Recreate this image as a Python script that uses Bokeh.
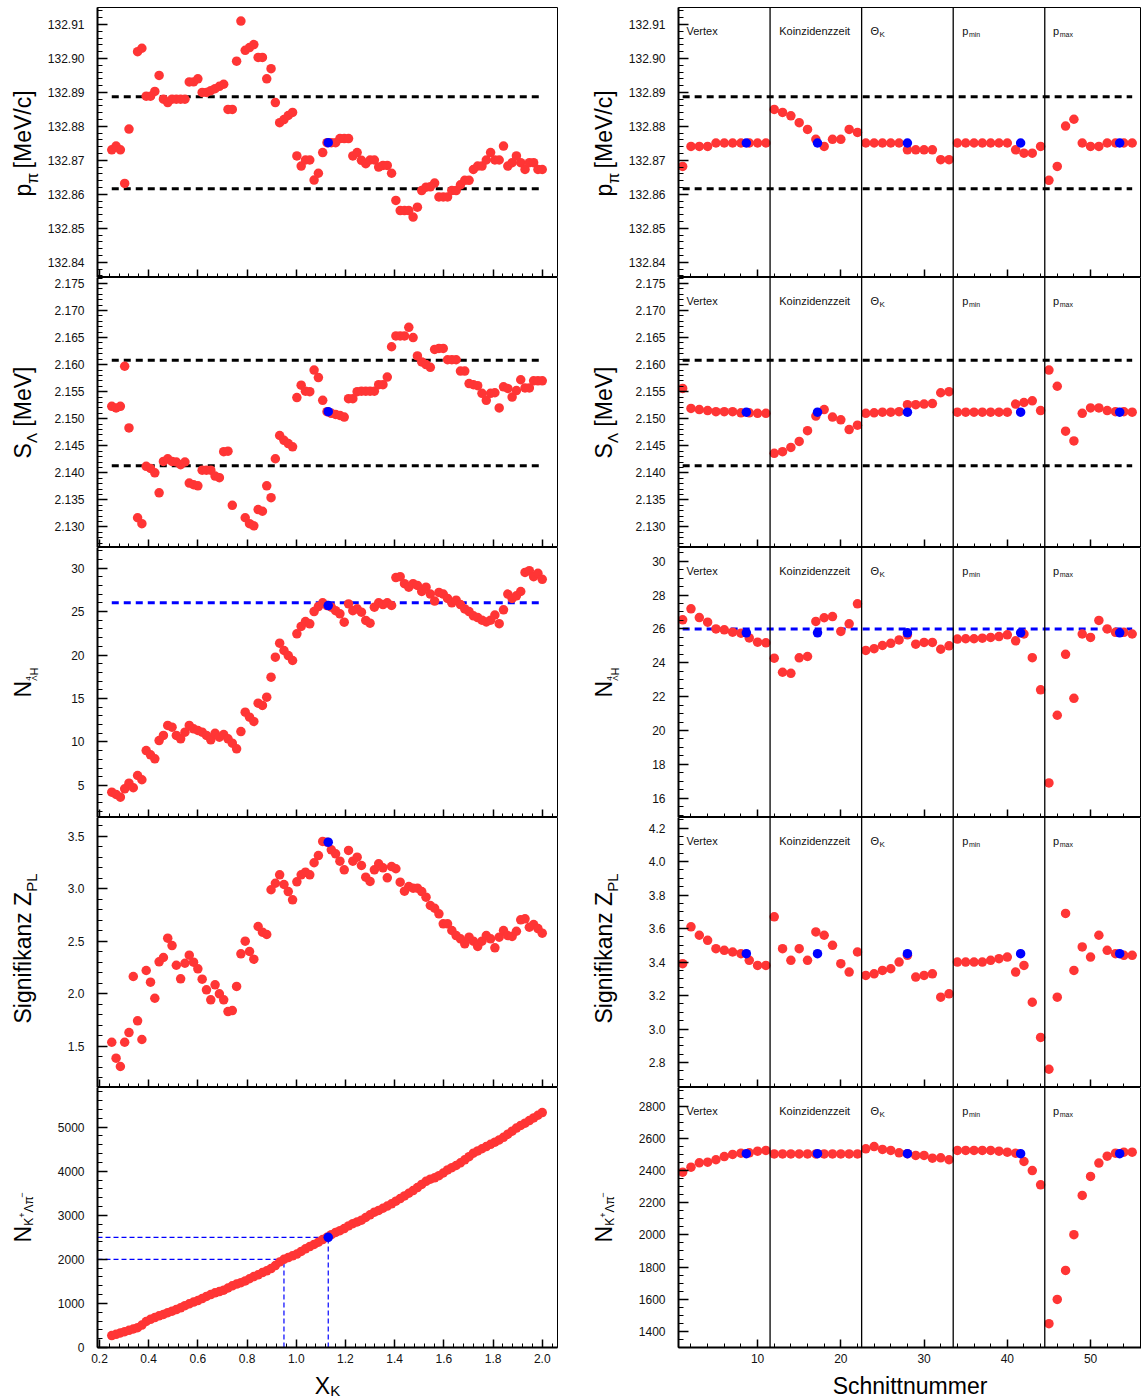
import numpy as np
from bokeh.plotting import figure
from bokeh.layouts import column, row
from bokeh.models import FixedTicker, PrintfTickFormatter, Span, Label, Range1d
from bokeh.core.properties import value
from bokeh.embed import file_html
from bokeh.resources import INLINE

nan = float("nan")

# ------------------------------------------------------------------ data
# left column: scan of the kaon cut X_K (101 cut values)
x_kappa = np.round(0.25 + 0.0175 * np.arange(101), 4)

p_pi_scan = [
    132.8731, 132.8742, 132.8731, 132.8632, 132.8792, nan, 132.9020, 132.9030, 132.8889, 132.8889,
    132.8903, 132.8950, 132.8880, 132.8870, 132.8880, 132.8880, 132.8880, 132.8880, 132.8931, 132.8931,
    132.8940, 132.8900, 132.8900, 132.8905, 132.8911, 132.8918, 132.8924, 132.8850, 132.8850, 132.8992,
    132.9110, 132.9024, 132.9032, 132.9041, 132.9003, 132.9003, 132.8940, 132.8970, 132.8870, 132.8811,
    132.8820, 132.8832, 132.8841, 132.8713, 132.8683, 132.8701, 132.8701, 132.8642, 132.8662, 132.8723,
    132.8752, 132.8752, 132.8752, 132.8764, 132.8764, 132.8764, 132.8713, 132.8723, 132.8700, 132.8690,
    132.8701, 132.8701, 132.8680, 132.8685, 132.8685, 132.8662, 132.8582, 132.8552, 132.8552, 132.8552,
    132.8533, 132.8562, 132.8611, 132.8621, 132.8622, 132.8633, 132.8592, 132.8592, 132.8592, 132.8611,
    132.8611, 132.8628, 132.8641, 132.8641, 132.8673, 132.8683, 132.8683, 132.8701, 132.8723, 132.8701,
    132.8701, 132.8742, 132.8683, 132.8693, 132.8713, 132.8693, 132.8673, 132.8693, 132.8693, 132.8673, 132.8673]

s_lambda_scan = [
    2.1523, 2.1520, 2.1523, 2.1597, 2.1483, nan, 2.1317, 2.1306, 2.1412, 2.1408,
    2.1400, 2.1363, 2.1421, 2.1426, 2.1421, 2.1420, 2.1415, 2.1420, 2.1381, 2.1378,
    2.1376, 2.1405, 2.1405, 2.1405, 2.1394, 2.1391, 2.1439, 2.1440, 2.1340, nan,
    nan, 2.1317, 2.1306, 2.1302, 2.1332, 2.1329, 2.1376, 2.1354, 2.1426, 2.1469,
    2.1460, 2.1454, 2.1448, 2.1539, 2.1562, 2.1551, 2.1550, 2.1590, 2.1576, 2.1534,
    2.1513, 2.1510, 2.1508, 2.1506, 2.1503, 2.1537, 2.1537, 2.1550, 2.1551, 2.1551,
    2.1551, 2.1551, 2.1563, 2.1563, 2.1577, 2.1633, 2.1653, 2.1653, 2.1653, 2.1669,
    2.1650, 2.1616, 2.1605, 2.1600, 2.1595, 2.1628, 2.1630, 2.1630, 2.1609, 2.1609,
    2.1609, 2.1588, 2.1588, 2.1565, 2.1563, 2.1561, 2.1547, 2.1534, 2.1547, 2.1548,
    2.1520, 2.1559, 2.1556, 2.1540, 2.1552, 2.1572, 2.1557, 2.1557, 2.1570, 2.1570, 2.1570]

n_hyp_scan = [
    4.23, 3.97, 3.66, 4.62, 5.27, 4.74, 6.15, 5.66, 9.02, 8.53,
    8.07, 10.17, 10.75, 11.90, 11.70, 10.75, 10.37, 11.13, 11.90, 11.52,
    11.32, 11.13, 10.75, 10.25, 11.00, 10.55, 10.86, 10.37, 9.86, 9.22,
    11.20, 13.43, 12.85, 12.36, 14.46, 14.20, 15.15, 17.45, 19.75, 21.36,
    20.52, 19.94, 19.37, 22.44, 23.28, 23.85, 23.59, 25.00, 25.57, 26.00,
    25.69, 25.50, 25.10, 24.74, 23.77, 25.88, 25.10, 25.31, 24.92, 23.97,
    23.66, 25.50, 26.00, 25.80, 26.00, 25.70, 28.90, 29.00, 28.20, 27.80,
    28.20, 28.00, 27.30, 27.80, 27.00, 26.20, 27.20, 27.00, 26.50, 26.00,
    26.30, 25.80, 25.30, 25.00, 24.50, 24.30, 24.00, 23.80, 24.00, 24.60,
    23.60, 25.20, 27.00, 26.50, 26.80, 27.30, 29.50, 29.70, 29.00, 29.40, 28.70]

signif_scan = [
    1.538, 1.386, 1.307, 1.538, 1.630, 2.164, 1.742, 1.564, 2.221, 2.110,
    1.957, 2.304, 2.345, 2.529, 2.459, 2.271, 2.142, 2.290, 2.367, 2.300,
    2.237, 2.138, 2.037, 1.942, 2.085, 1.999, 1.942, 1.830, 1.840, 2.069,
    2.380, 2.500, 2.402, 2.329, 2.640, 2.586, 2.564, 2.990, 3.052, 3.132,
    3.040, 2.973, 2.894, 3.066, 3.132, 3.157, 3.132, 3.247, 3.316, 3.450,
    3.443, 3.370, 3.332, 3.262, 3.180, 3.364, 3.262, 3.300, 3.221, 3.110,
    3.069, 3.180, 3.237, 3.199, 3.104, 3.211, 3.190, 3.062, 2.976, 3.021,
    3.005, 3.005, 2.973, 2.919, 2.840, 2.814, 2.761, 2.666, 2.666, 2.602,
    2.554, 2.523, 2.475, 2.538, 2.500, 2.450, 2.500, 2.554, 2.523, 2.437,
    2.538, 2.602, 2.554, 2.545, 2.595, 2.704, 2.713, 2.633, 2.659, 2.620, 2.576]

n_kpi_scan = [
    270, 300, 330, 360, 390, 420, 450, 510, 590, 640,
    680, 720, 750, 790, 825, 860, 900, 950, 990, 1030,
    1065, 1110, 1160, 1200, 1240, 1270, 1300, 1350, 1400, 1440,
    1470, 1510, 1560, 1610, 1650, 1700, 1740, 1790, 1860, 1940,
    2000, 2040, 2080, 2120, 2180, 2240, 2290, 2340, 2390, 2450,
    2500, 2560, 2610, 2650, 2700, 2760, 2810, 2850, 2890, 2950,
    3010, 3070, 3110, 3160, 3210, 3260, 3320, 3380, 3440, 3500,
    3560, 3630, 3700, 3770, 3820, 3850, 3900, 3960, 4030, 4080,
    4130, 4190, 4260, 4330, 4410, 4460, 4510, 4560, 4610, 4660,
    4710, 4770, 4840, 4910, 4980, 5040, 5090, 5150, 5210, 5270, 5330]

x_kappa_chosen = 1.13
x_kappa_2000 = 0.95
n_kpi_chosen = 2500
n_kpi_2000 = 2000
chosen_left = {"p": 132.8752, "s": 2.1513, "n": 25.69, "z": 3.443, "k": 2500}

# right column: variation of the other cuts (Schnittnummer 1..55)
cut_number = list(range(1, 56))

p_pi_cuts = [
    132.8682, 132.8741, 132.8741, 132.8741, 132.8751, 132.8751, 132.8751, 132.8751, 132.8751, 132.8751, 132.8751,
    132.8850, 132.8841, 132.8831, 132.8811, 132.8791, 132.8762, 132.8741, 132.8762, 132.8762, 132.8791, 132.8782,
    132.8751, 132.8751, 132.8751, 132.8751, 132.8751, 132.8731, 132.8731, 132.8731, 132.8731, 132.8702, 132.8702,
    132.8751, 132.8751, 132.8751, 132.8751, 132.8751, 132.8751, 132.8751, 132.8731, 132.8721, 132.8721, 132.8741,
    132.8641, 132.8682, 132.8801, 132.8821, 132.8751, 132.8741, 132.8741, 132.8751, 132.8751, 132.8751, 132.8751]

s_lambda_cuts = [
    2.1556, 2.1519, 2.1517, 2.1515, 2.1513, 2.1513, 2.1513, 2.1511, 2.1511, 2.1510, 2.1510,
    2.1436, 2.1439, 2.1447, 2.1458, 2.1478, 2.1505, 2.1517, 2.1503, 2.1498, 2.1480, 2.1488,
    2.1510, 2.1511, 2.1512, 2.1512, 2.1513, 2.1526, 2.1526, 2.1527, 2.1528, 2.1548, 2.1550,
    2.1512, 2.1512, 2.1512, 2.1512, 2.1512, 2.1512, 2.1512, 2.1527, 2.1530, 2.1533, 2.1515,
    2.1590, 2.1560, 2.1477, 2.1459, 2.1510, 2.1520, 2.1520, 2.1515, 2.1513, 2.1513, 2.1512]

n_hyp_cuts = [
    26.54, 27.19, 26.67, 26.40, 26.00, 25.95, 25.81, 25.75, 25.47, 25.22, 25.18,
    24.27, 23.44, 23.38, 24.29, 24.37, 26.44, 26.66, 26.73, 25.85, 26.30, 27.48,
    24.73, 24.83, 25.02, 25.15, 25.35, 25.65, 25.10, 25.20, 25.20, 24.80, 25.00,
    25.40, 25.42, 25.42, 25.45, 25.50, 25.55, 25.65, 25.30, 25.70, 24.30, 22.40,
    16.90, 20.90, 24.50, 21.90, 25.70, 25.50, 26.50, 26.00, 25.80, 25.80, 25.70]

signif_cuts = [
    3.39, 3.61, 3.56, 3.53, 3.48, 3.47, 3.46, 3.45, 3.41, 3.38, 3.38,
    3.67, 3.48, 3.41, 3.48, 3.41, 3.58, 3.56, 3.50, 3.39, 3.34, 3.46,
    3.32, 3.33, 3.35, 3.36, 3.40, 3.44, 3.31, 3.32, 3.33, 3.19, 3.21,
    3.40, 3.40, 3.40, 3.40, 3.41, 3.42, 3.43, 3.34, 3.38, 3.16, 2.95,
    2.76, 3.19, 3.69, 3.35, 3.49, 3.43, 3.56, 3.47, 3.45, 3.44, 3.44]

n_kpi_cuts = [
    2390, 2421, 2448, 2452, 2467, 2487, 2500, 2508, 2510, 2520, 2525,
    2503, 2503, 2503, 2503, 2503, 2503, 2503, 2503, 2503, 2503, 2503,
    2535, 2549, 2531, 2525, 2510, 2505, 2494, 2494, 2477, 2479, 2467,
    2525, 2525, 2525, 2525, 2525, 2520, 2514, 2508, 2456, 2400, 2311,
    1448, 1599, 1779, 2001, 2245, 2363, 2446, 2489, 2508, 2514, 2514]

chosen_cut_pos = [8.65, 17.2, 28.0, 41.6, 53.5]
chosen_right = {"p": 132.8751, "s": 2.1512, "n": 25.77, "z": 3.45, "k": 2505}

p_pi_band = [132.8616, 132.8887]
s_lambda_band = [2.1413, 2.1608]
n_hyp_ref = 26.0

section_bounds = [11.5, 22.5, 33.5, 44.5]
section_names = ["Vertex", "Koinzidenzzeit", "\u0398", "p", "p"]
section_subs = ["", "", "K", "min", "max"]
section_pos = [1.46, 12.6, 23.55, 34.6, 45.5]

# ------------------------------------------------------------------ style
FONT = "Liberation Sans"
RED = "#ff3535"
BLUE = "#0000ff"
TITLE = 23

W = {'p': 556, '\u03c0': 560, ' ': 278, '[': 278, ']': 278, 'M': 833, 'e': 556, 'V': 667, '/': 278,
     'c': 500, 'S': 667, '\u039b': 667, 'N': 722, '4': 556, 'H': 722, 'i': 222, 'g': 556, 'n': 556,
     'f': 278, 'k': 500, 'a': 556, 'z': 500, 'Z': 611, 'P': 667, 'L': 556, 'K': 667, '+': 584,
     '-': 584, '\u2212': 584, 'X': 667, 'h': 556, 't': 278, 'u': 556, 'm': 833, 'r': 333, '\u0398': 778}


def text_w(s, size):
    return sum(W.get(ch, 556) for ch in s) * size / 1000.0


def frame_fig(xr, yr, fw, fh, bl, br, bb, bt):
    p = figure(frame_width=fw, frame_height=fh, x_range=Range1d(*xr), y_range=Range1d(*yr),
               output_backend="svg", toolbar_location=None,
               min_border_left=bl, min_border_right=br, min_border_top=bt, min_border_bottom=bb)
    p.grid.visible = False
    p.outline_line_color = "black"
    p.outline_line_width = 1
    p.background_fill_color = "white"
    p.border_fill_color = "white"
    return p


def text_fig(w, h):
    t = figure(frame_width=w, frame_height=h, x_range=Range1d(0, w), y_range=Range1d(0, h),
               output_backend="svg", toolbar_location=None, min_border=0,
               x_axis_location=None, y_axis_location=None)
    t.grid.visible = False
    t.outline_line_color = None
    t.background_fill_color = "white"
    t.border_fill_color = "white"
    return t


def style(ax, ticks, minor, fmt, labels=True, standoff=13, tin=10, mtin=5):
    ax.ticker = FixedTicker(ticks=list(ticks), minor_ticks=list(minor))
    ax.formatter = PrintfTickFormatter(format=fmt)
    ax.axis_line_width = 2
    ax.axis_line_color = "black"
    ax.major_tick_in = tin
    ax.major_tick_out = 0
    ax.minor_tick_in = mtin
    ax.minor_tick_out = 0
    ax.major_tick_line_width = 1.5
    ax.minor_tick_line_width = 1
    ax.major_label_text_font = FONT
    if labels:
        ax.major_label_text_color = "#111111"
        ax.major_label_text_font_size = "12px"
        ax.major_label_standoff = standoff
    else:
        ax.major_label_text_color = None
        ax.major_label_text_font_size = "0px"
        ax.major_label_standoff = 0


def rng(lo, hi, step):
    return np.round(np.arange(lo, hi + step / 2, step), 6)


def run_len(runs):
    return sum(text_w(s_, s) for s_, s, d, adv in runs if adv)


def y_title(t, runs, center_y, base_x):
    y = center_y - run_len(runs) / 2.0
    for s_, s, d, adv in runs:
        if s_.startswith(" "):          # svg collapses leading blanks: advance explicitly
            y += text_w(" ", s)
            s_ = s_.lstrip()
        t.text(x=[base_x + d], y=[y], text=[s_], angle=np.pi / 2, text_font=value(FONT),
               text_font_size=value(f"{s}px"), text_color="black",
               text_baseline="alphabetic", text_align="left")
        if adv:
            y += text_w(s_, s)


def x_title(t, runs, center_x, base_y):
    x = center_x - run_len(runs) / 2.0
    for s_, s, d, adv in runs:
        t.text(x=[x], y=[base_y - d], text=[s_], text_font=value(FONT),
               text_font_size=value(f"{s}px"), text_color="black",
               text_baseline="alphabetic", text_align="left")
        if adv:
            x += text_w(s_, s)


def add_sections(p, fh):
    for b in section_bounds:
        p.add_layout(Span(location=b, dimension="height", line_color="black", line_width=1.3))
    for name, sub, xpos in zip(section_names, section_subs, section_pos):
        p.add_layout(Label(x=xpos, y=fh - 23, x_units="data", y_units="screen", text=name,
                           text_font=FONT, text_font_size="11px", text_baseline="middle",
                           text_color="#111111"))
        if sub:
            p.add_layout(Label(x=xpos, x_offset=text_w(name, 11) + 0.5, y=fh - 23, y_offset=-4,
                               x_units="data", y_units="screen", text=sub, text_font=FONT,
                               text_font_size="7px" if len(sub) > 1 else "8px",
                               text_baseline="middle", text_color="#111111"))


# page geometry (content starts at the page's top-left corner)
LX = (0.192, 2.062)
RX = (0.5, 56.12)
TLW, TRW = 42, 36            # widths of the y-title strips
LW, RW = 460, 463            # frame widths
LBL, LBR = 55, 30            # left figure borders
RBL, RBR = 55, 0             # right figure borders
FH, FH5 = 270, 260           # frame heights
TOP = 7                      # top border of first row
BOT = 22                     # tick-label border of last row
XT_H = 30                    # height of x-title strip
TL_BASE = 22                 # baseline of left y titles inside their strip
TR_BASE = 16                 # baseline of right y titles inside their strip

panels = [
    dict(key="p", left=p_pi_scan, right=p_pi_cuts, yr=(132.8355, 132.915), ryr=(132.8355, 132.915),
         ticks=rng(132.84, 132.91, 0.01), minor=rng(132.836, 132.914, 0.002), fmt="%.2f",
         rticks=rng(132.84, 132.91, 0.01), rminor=rng(132.836, 132.914, 0.002), rfmt="%.2f", toff=6,
         title=[("p", TITLE, 0, True), ("\u03c0", 16, 10, True), (" [MeV/c]", TITLE, 0, True)]),
    dict(key="s", left=s_lambda_scan, right=s_lambda_cuts, yr=(2.1262, 2.1761), ryr=(2.1262, 2.1761),
         ticks=rng(2.130, 2.175, 0.005), minor=rng(2.127, 2.176, 0.001), fmt="%.3f",
         rticks=rng(2.130, 2.175, 0.005), rminor=rng(2.127, 2.176, 0.001), rfmt="%.3f", toff=0,
         title=[("S", TITLE, 0, True), ("\u039b", 15, 9, True), (" [MeV]", TITLE, 0, True)]),
    dict(key="n", left=n_hyp_scan, right=n_hyp_cuts, yr=(1.32, 32.36), ryr=(14.86, 30.81),
         ticks=rng(5, 30, 5), minor=rng(2, 32, 1), fmt="%d",
         rticks=rng(16, 30, 2), rminor=rng(15, 30.5, 0.5), rfmt="%d", toff=0,
         title=[("N", TITLE, 0, True), ("4", 8, 6, False), ("\u039b", 8, 12, True), ("H", 11, 11, True)]),
    dict(key="z", left=signif_scan, right=signif_cuts, yr=(1.107, 3.678), ryr=(2.651, 4.263),
         ticks=rng(1.5, 3.5, 0.5), minor=rng(1.2, 3.6, 0.1), fmt="%.1f",
         rticks=rng(2.8, 4.2, 0.2), rminor=rng(2.65, 4.25, 0.05), rfmt="%.1f", toff=4,
         title=[("Signifikanz Z", TITLE, 0, True), ("PL", 15, 9, True)]),
    dict(key="k", left=n_kpi_scan, right=n_kpi_cuts, yr=(0, 5900), ryr=(1300, 2916),
         ticks=rng(0, 5000, 1000), minor=rng(0, 5800, 200), fmt="%d",
         rticks=rng(1400, 2800, 200), rminor=rng(1300, 2900, 50), rfmt="%d", toff=0,
         title=[("N", TITLE, 0, True), ("K", 12, 6, True), ("+", 9, -1, True), ("\u039b", 12, 6, True),
                ("\u03c0", 12, 6, True), ("\u2212", 9, -1, True)]),
]

rows = []
for idx, pn in enumerate(panels):
    first = idx == 0
    last = idx == len(panels) - 1
    fh = FH5 if last else FH
    bb = BOT if last else 0
    bt = TOP if first else 0
    total_h = fh + bb + bt
    center_y = bb + fh / 2.0 + pn["toff"]

    # ---------------- left: X_K scan
    L = frame_fig(LX, pn["yr"], LW, fh, LBL, LBR, bb, bt)
    style(L.yaxis[0], pn["ticks"], pn["minor"], pn["fmt"], labels=True)
    style(L.xaxis[0], rng(0.2, 2.0, 0.2), rng(0.2, 2.04, 0.04), "%.1f", labels=last, standoff=6, tin=8, mtin=4)
    xs = [float(x_kappa[0]), float(x_kappa[-1])]
    if pn["key"] == "p":
        for v in p_pi_band:
            L.line(xs, [v, v], line_color="black", line_width=3, line_dash="7 5")
    if pn["key"] == "s":
        for v in s_lambda_band:
            L.line(xs, [v, v], line_color="black", line_width=3, line_dash="7 5")
    if pn["key"] == "n":
        L.line(xs, [n_hyp_ref, n_hyp_ref], line_color=BLUE, line_width=3, line_dash="7 5")
    if pn["key"] == "k":
        x0 = LX[0]
        L.line([x0, x_kappa_chosen], [n_kpi_chosen, n_kpi_chosen], line_color=BLUE, line_width=1.2, line_dash="5 3")
        L.line([x_kappa_chosen, x_kappa_chosen], [0, n_kpi_chosen], line_color=BLUE, line_width=1.2, line_dash="5 3")
        L.line([x0, x_kappa_2000], [n_kpi_2000, n_kpi_2000], line_color=BLUE, line_width=1.2, line_dash="5 3")
        L.line([x_kappa_2000, x_kappa_2000], [0, n_kpi_2000], line_color=BLUE, line_width=1.2, line_dash="5 3")
    L.scatter(x_kappa, np.array(pn["left"], dtype=float), size=9.5, fill_color=RED, line_color=None)
    L.scatter([x_kappa_chosen], [chosen_left[pn["key"]]], size=9.5, fill_color=BLUE, line_color=None)

    TL = text_fig(TLW, total_h)
    y_title(TL, pn["title"], center_y, TL_BASE)

    # ---------------- right: cut variation
    R = frame_fig(RX, pn["ryr"], RW, fh, RBL, RBR, bb, bt)
    style(R.yaxis[0], pn["rticks"], pn["rminor"], pn["rfmt"], labels=True)
    style(R.xaxis[0], rng(10, 50, 10), rng(2, 56, 2), "%d", labels=last, standoff=6, tin=8, mtin=4)
    add_sections(R, fh)
    rs = [cut_number[0], cut_number[-1]]
    if pn["key"] == "p":
        for v in p_pi_band:
            R.line(rs, [v, v], line_color="black", line_width=3, line_dash="7 5")
    if pn["key"] == "s":
        for v in s_lambda_band:
            R.line(rs, [v, v], line_color="black", line_width=3, line_dash="7 5")
    if pn["key"] == "n":
        R.line(rs, [n_hyp_ref, n_hyp_ref], line_color=BLUE, line_width=3, line_dash="7 5")
    R.scatter(cut_number, np.array(pn["right"], dtype=float), size=9.5, fill_color=RED, line_color=None)
    R.scatter(chosen_cut_pos, [chosen_right[pn["key"]]] * len(chosen_cut_pos), size=9.5,
              fill_color=BLUE, line_color=None)

    TR = text_fig(TRW, total_h)
    y_title(TR, pn["title"], center_y, TR_BASE)

    rows.append(row(TL, L, TR, R))

# x-axis titles strip
total_w = TLW + LBL + LW + LBR + TRW + RBL + RW + RBR
XT = text_fig(total_w, XT_H)
x_title(XT, [("X", TITLE, 0, True), ("K", 15, 5, True)], TLW + LBL + LW / 2.0, 14)
x_title(XT, [("Schnittnummer", TITLE, 0, True)], TLW + LBL + LW + LBR + TRW + RBL + RW / 2.0, 14)
rows.append(XT)

layout = column(*rows)
open("out.html", "w").write(file_html(layout, INLINE, "Schnittvariation"))
